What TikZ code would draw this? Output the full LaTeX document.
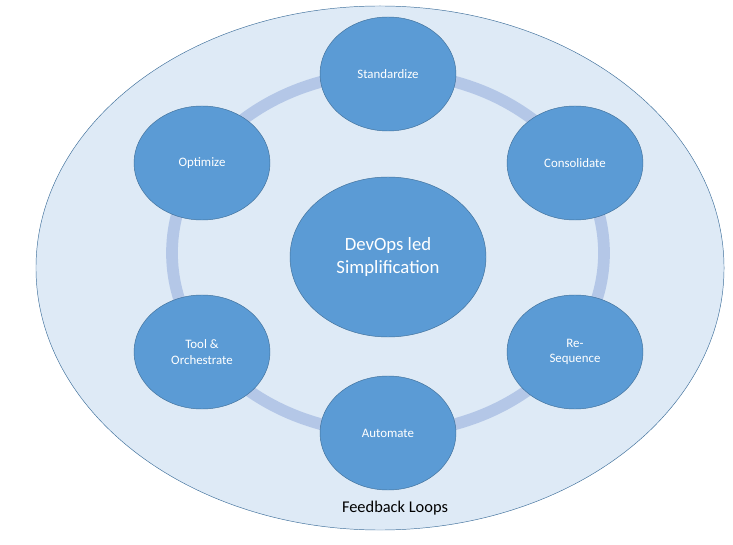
\documentclass[tikz,border=0pt]{standalone}
\usepackage{fontspec}
\setmainfont{Carlito}
\usetikzlibrary{shapes.geometric}
\definecolor{outerfill}{HTML}{DEEAF6}
\definecolor{outerline}{HTML}{41719C}
\definecolor{stepfill}{HTML}{5B9BD5}
\definecolor{ringcol}{HTML}{B4C7E7}
\tikzset{
  stage/.style={ellipse, draw=outerline, fill=stepfill, text=white, align=center,
    minimum width=4.08cm, minimum height=3.42cm, font=\fontsize{11}{13}\selectfont},
  hub/.style={stage, minimum width=5.88cm, minimum height=4.8cm, font=\fontsize{16}{19}\selectfont}
}
\begin{document}
\begin{tikzpicture}[x=0.03cm, y=-0.03cm]
      \useasboundingbox (0,0) rectangle (733,545);

      \node[ellipse, draw=outerline, fill=outerfill, minimum width=20.64cm, minimum height=15.72cm] (outer) at (380,268) {};
      \draw[ringcol, line width=10pt] (388,253) ellipse (216 and 180);

      \node[hub] (hub) at (388,257) {DevOps led\\Simplification};
      \node[stage] (std) at (388,74) {Standardize};
      \node[stage] (cons) at (575,163) {Consolidate};
      \node[stage] (reseq) at (575,352) {Re-\\Sequence};
      \node[stage] (auto) at (388,433) {Automate};
      \node[stage] (tool) at (202,352) {Tool \&\\Orchestrate};
      \node[stage] (opt) at (202,163) {Optimize};

      \node[font=\fontsize{14}{17}\selectfont] (fb) at (395,508) {Feedback Loops};

    \end{tikzpicture}
\end{document}
